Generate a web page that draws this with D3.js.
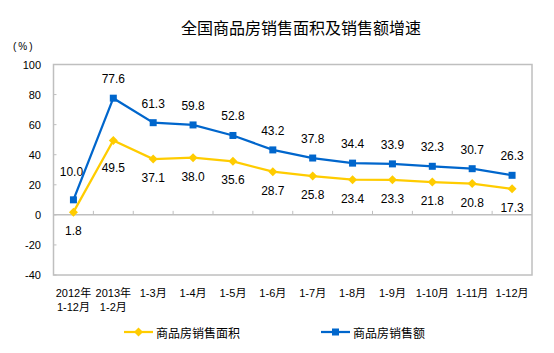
<!DOCTYPE html>
<html lang="zh">
<head>
<meta charset="UTF-8">
<title>全国商品房销售面积及销售额增速</title>
<script src="https://d3js.org/d3.v7.min.js"></script>
<style>
  body { margin: 0; background: #fff; }
  text { font-family: "Liberation Sans", Arial, "Noto Sans CJK SC", sans-serif; fill: #000; }
</style>
</head>
<body>
<script>
const categories = [
  ["2012年", "1-12月"], ["2013年", "1-2月"], ["1-3月"], ["1-4月"], ["1-5月"], ["1-6月"],
  ["1-7月"], ["1-8月"], ["1-9月"], ["1-10月"], ["1-11月"], ["1-12月"]
];
const areaGrowth  = [1.8, 49.5, 37.1, 38.0, 35.6, 28.7, 25.8, 23.4, 23.3, 21.8, 20.8, 17.3];
const salesGrowth = [10.0, 77.6, 61.3, 59.8, 52.8, 43.2, 37.8, 34.4, 33.9, 32.3, 30.7, 26.3];
const yTicks = [-40, -20, 0, 20, 40, 60, 80, 100];
const seriesNames = ["商品房销售面积", "商品房销售额"];

const width = 554, height = 353;
const plotL = 53.5, plotR = 532, plotT = 64.5, plotB = 275;
const blue = "#0066cc", yellow = "#ffcc00", grey = "#bfbfbf";

const svg = d3.select("body").append("svg")
  .attr("width", width).attr("height", height);

const keys = categories.map((c, i) => i);
const x = d3.scaleBand().domain(keys).range([plotL, plotR]);
const y = d3.scaleLinear().domain([-40, 100]).range([plotB, plotT]);
const cx = i => x(i) + x.bandwidth() / 2;

// title
svg.append("text")
  .attr("x", 301).attr("y", 27)
  .attr("text-anchor", "middle").attr("dominant-baseline", "central")
  .style("font-family", "'Noto Sans CJK SC', sans-serif")
  .style("font-size", "16px")
  .text("全国商品房销售面积及销售额增速");

svg.append("text")
  .attr("x", 13).attr("y", 46)
  .attr("dominant-baseline", "central")
  .style("font-size", "10px").style("letter-spacing", "2px")
  .text("(%)");

// plot frame
svg.append("rect")
  .attr("x", plotL).attr("y", plotT)
  .attr("width", plotR - plotL).attr("height", plotB - plotT)
  .attr("fill", "none").attr("stroke", grey).attr("stroke-width", 1.5);

// y axis ticks + labels
svg.selectAll("line.ytick").data(yTicks).enter().append("line")
  .attr("x1", plotL).attr("x2", plotL + 3)
  .attr("y1", d => y(d)).attr("y2", d => y(d))
  .attr("stroke", grey).attr("stroke-width", 1);

svg.selectAll("text.ylab").data(yTicks).enter().append("text")
  .attr("x", 41).attr("y", d => y(d))
  .attr("text-anchor", "end").attr("dominant-baseline", "central")
  .style("font-size", "11px")
  .text(d => d);

// zero line with category ticks
svg.append("line")
  .attr("x1", plotL).attr("x2", plotR)
  .attr("y1", y(0)).attr("y2", y(0))
  .attr("stroke", grey).attr("stroke-width", 1.5);

svg.selectAll("line.xtick").data(keys.slice(1)).enter().append("line")
  .attr("x1", d => x(d)).attr("x2", d => x(d))
  .attr("y1", y(0)).attr("y2", y(0) - 4)
  .attr("stroke", grey).attr("stroke-width", 1);

// category labels
const xl = svg.selectAll("text.xlab").data(categories).enter().append("text")
  .attr("text-anchor", "middle")
  .style("font-size", "11px");
xl.each(function(d, i) {
  d.forEach((line, j) => {
    d3.select(this).append("tspan")
      .attr("x", cx(i)).attr("y", 297 + j * 13.5)
      .text(line);
  });
});

// series
const line = d3.line().x((d, i) => cx(i)).y(d => y(d));
const diamond = "M0,-4.5L4.5,0L0,4.5L-4.5,0Z";

svg.append("path").datum(areaGrowth)
  .attr("d", line).attr("fill", "none")
  .attr("stroke", yellow).attr("stroke-width", 2.25);
svg.append("path").datum(salesGrowth)
  .attr("d", line).attr("fill", "none")
  .attr("stroke", blue).attr("stroke-width", 2.25);

svg.selectAll("path.dmark").data(areaGrowth).enter().append("path")
  .attr("d", diamond)
  .attr("transform", (d, i) => `translate(${cx(i)},${y(d)})`)
  .attr("fill", yellow);
svg.selectAll("rect.smark").data(salesGrowth).enter().append("rect")
  .attr("x", (d, i) => cx(i) - 3.5).attr("y", d => y(d) - 3.5)
  .attr("width", 7).attr("height", 7)
  .attr("fill", blue);

// data labels (first two were nudged further off the lines in the original)
svg.selectAll("text.alab").data(areaGrowth).enter().append("text")
  .attr("x", (d, i) => cx(i)).attr("y", (d, i) => y(d) + (i === 1 ? 28 : 19))
  .attr("text-anchor", "middle").attr("dominant-baseline", "central")
  .style("font-size", "12px")
  .text(d => d.toFixed(1));
svg.selectAll("text.slab").data(salesGrowth).enter().append("text")
  .attr("x", (d, i) => cx(i) - (i === 0 ? 2 : 0)).attr("y", (d, i) => y(d) - (i === 0 ? 28 : 19))
  .attr("text-anchor", "middle").attr("dominant-baseline", "central")
  .style("font-size", "12px")
  .text(d => d.toFixed(1));

// legend
const legend = [
  { name: seriesNames[0], color: yellow, x: 124, mark: "diamond" },
  { name: seriesNames[1], color: blue, x: 321, mark: "square" }
];
const lg = svg.selectAll("g.legend").data(legend).enter().append("g")
  .attr("transform", d => `translate(${d.x},332)`);
lg.append("line").attr("x1", 0).attr("x2", 29)
  .attr("stroke", d => d.color).attr("stroke-width", 2.25);
lg.filter(d => d.mark === "diamond").append("path")
  .attr("d", diamond).attr("transform", "translate(14.5,0)")
  .attr("fill", d => d.color);
lg.filter(d => d.mark === "square").append("rect")
  .attr("x", 11).attr("y", -3.5).attr("width", 7).attr("height", 7)
  .attr("fill", d => d.color);
lg.append("text").attr("x", 32).attr("y", 0)
  .attr("dominant-baseline", "central")
  .style("font-family", "'Noto Sans CJK SC', sans-serif")
  .style("font-size", "12px")
  .text(d => d.name);
</script>
</body>
</html>
